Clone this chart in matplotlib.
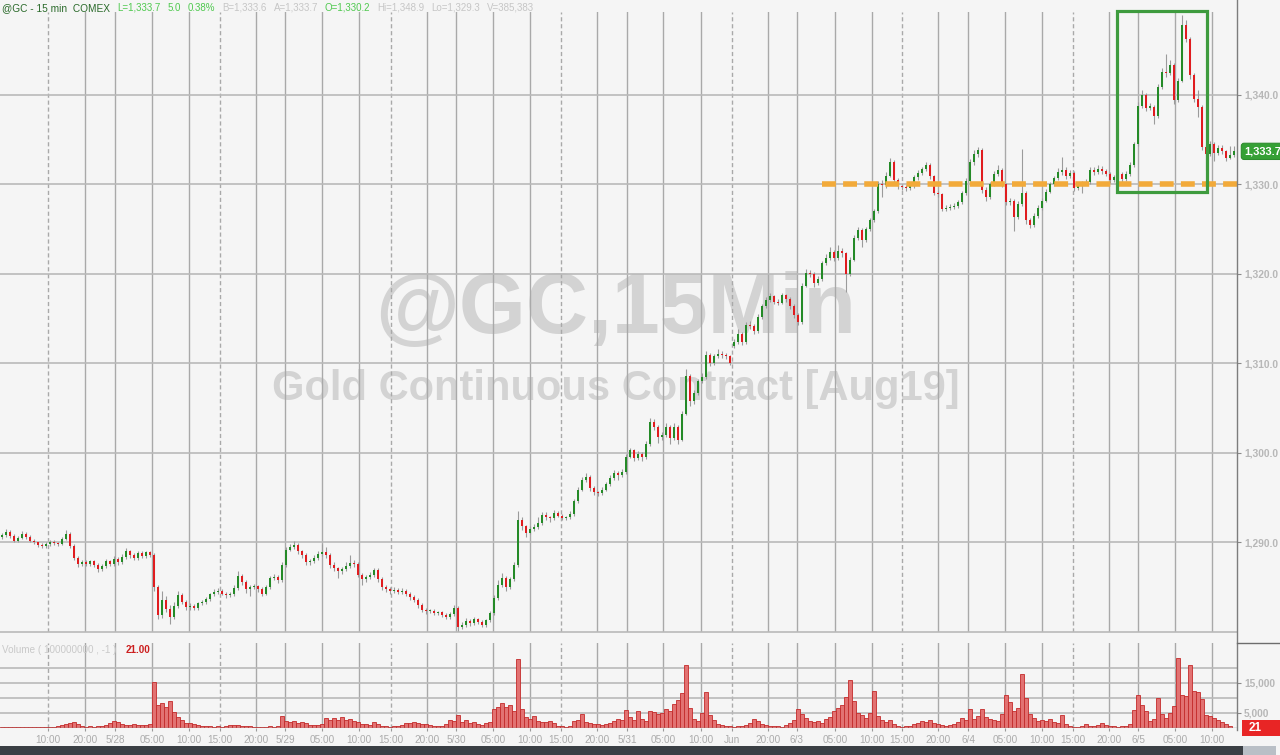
import matplotlib
matplotlib.use("Agg")
import matplotlib.pyplot as plt
import matplotlib.transforms as mtransforms
from matplotlib.patches import Rectangle
import numpy as np

plt.rcParams['font.family'] = ['Liberation Sans', 'DejaVu Sans']

# ---------------- DATA (~30-min candles) ----------------
first_open = 1290.6
gap_opens = {183: 1311.9}          # first candle after the weekend

closes = [
1290.8, 1291.2, 1290.7, 1290.2, 1290.5, 1291.0, 1290.6, 1290.2, 1290.0, 1289.7,
1289.6, 1289.8, 1290.1, 1289.9, 1289.8, 1290.4, 1291.0, 1289.6, 1288.3, 1287.6,
1287.8, 1287.6, 1287.9, 1287.5, 1287.0, 1287.4, 1287.9, 1287.6, 1288.2, 1287.8,
1288.4, 1289.0, 1288.6, 1288.3, 1288.8, 1288.5, 1288.9, 1288.6, 1285.0, 1281.9,
1283.6, 1282.6, 1281.7, 1282.9, 1284.1, 1283.4, 1282.8, 1282.9, 1282.7, 1283.2,
1283.3, 1283.7, 1284.2, 1284.5, 1284.6, 1284.3, 1284.1, 1284.2, 1284.9, 1286.3,
1285.6, 1284.8, 1285.0, 1285.1, 1284.8, 1284.3, 1285.0, 1286.0, 1286.2, 1285.8,
1287.5, 1289.2, 1289.5, 1289.7, 1289.0, 1288.6, 1287.8, 1287.9, 1288.3, 1288.7,
1288.9, 1288.6, 1287.5, 1287.1, 1286.8, 1287.0, 1287.4, 1287.7, 1287.6, 1286.4,
1285.9, 1286.1, 1286.4, 1286.9, 1285.9, 1285.0, 1284.8, 1284.6, 1284.7, 1284.5,
1284.6, 1284.3, 1283.9, 1283.6, 1283.0, 1282.5, 1282.3, 1282.4, 1282.1, 1282.2,
1281.9, 1281.7, 1282.0, 1282.7, 1280.6, 1280.8, 1281.2, 1281.0, 1281.4, 1281.1,
1280.8, 1281.3, 1282.1, 1283.8, 1285.3, 1286.0, 1285.0, 1285.9, 1287.5, 1292.5,
1291.8, 1291.1, 1291.5, 1291.7, 1292.2, 1293.1, 1292.8, 1292.7, 1293.3, 1293.0,
1292.7, 1292.8, 1293.2, 1294.6, 1295.9, 1297.0, 1297.3, 1296.1, 1295.6, 1295.5,
1295.9, 1296.5, 1297.2, 1297.8, 1297.5, 1297.9, 1299.6, 1300.3, 1299.4, 1299.9,
1299.5, 1301.0, 1303.5, 1302.9, 1301.8, 1302.0, 1302.9, 1301.7, 1302.9, 1301.5,
1304.4, 1308.6, 1305.8, 1306.7, 1308.0, 1308.5, 1311.0, 1310.0, 1310.8, 1311.1,
1310.9, 1310.8, 1310.1, 1312.4, 1313.3, 1312.4, 1314.3, 1314.2, 1313.6, 1315.2,
1316.4, 1317.1, 1317.5, 1316.9, 1316.8, 1317.6, 1317.2, 1316.4, 1315.4, 1314.6,
1318.7, 1320.1, 1320.0, 1319.0, 1319.4, 1321.2, 1321.8, 1322.5, 1321.8, 1322.6,
1322.3, 1320.0, 1321.6, 1324.0, 1324.9, 1323.8, 1325.0, 1326.0, 1327.0, 1330.1,
1329.9, 1331.0, 1332.5, 1330.5, 1329.8, 1329.7, 1329.6, 1329.8, 1330.8, 1331.3,
1331.7, 1332.2, 1330.9, 1329.1, 1328.9, 1327.3, 1327.4, 1327.5, 1327.6, 1328.0,
1329.0, 1330.4, 1332.5, 1333.4, 1333.9, 1329.4, 1328.6, 1330.0, 1331.2, 1331.6,
1330.0, 1328.0, 1328.2, 1326.4, 1327.8, 1329.0, 1326.0, 1325.5, 1326.5, 1327.4,
1328.2, 1329.2, 1330.0, 1330.7, 1331.4, 1331.6, 1330.9, 1331.3, 1329.6, 1329.8,
1330.1, 1330.3, 1331.6, 1331.4, 1331.7, 1331.5, 1331.2, 1330.5, 1330.8, 1331.2,
1330.6, 1331.2, 1332.2, 1334.5, 1338.8, 1340.0, 1338.6, 1338.7, 1337.6, 1340.9,
1342.6, 1342.4, 1343.4, 1339.4, 1341.6, 1347.8, 1346.3, 1342.2, 1339.5, 1338.7,
1334.2, 1333.4, 1334.5, 1333.5, 1334.1, 1333.7, 1333.0, 1333.3, 1333.7,
]

highs = [
1291.1, 1291.5, 1291.4, 1290.9, 1290.7, 1291.3, 1291.2, 1290.8, 1290.4, 1290.1,
1289.9, 1290.0, 1290.3, 1290.3, 1290.1, 1290.6, 1291.4, 1291.2, 1289.8, 1288.5,
1288.1, 1288.0, 1288.1, 1288.1, 1287.7, 1287.6, 1288.2, 1288.1, 1288.5, 1288.4,
1288.7, 1289.4, 1289.2, 1288.8, 1289.0, 1289.0, 1289.1, 1289.1, 1288.8, 1285.2,
1284.6, 1284.0, 1283.0, 1283.3, 1284.6, 1284.4, 1283.6, 1283.2, 1283.1, 1283.4,
1283.6, 1283.9, 1284.4, 1284.8, 1284.9, 1284.8, 1284.5, 1284.5, 1285.2, 1286.8,
1286.5, 1285.8, 1285.3, 1285.4, 1285.3, 1285.0, 1285.2, 1286.3, 1286.5, 1286.4,
1287.8, 1289.5, 1289.8, 1290.2, 1289.9, 1289.2, 1288.8, 1288.2, 1288.6, 1289.0,
1289.8, 1289.5, 1288.8, 1287.8, 1287.3, 1287.3, 1287.8, 1288.6, 1288.0, 1287.8,
1286.6, 1286.4, 1286.7, 1287.2, 1287.1, 1286.1, 1285.2, 1285.0, 1285.0, 1284.9,
1284.9, 1284.8, 1284.5, 1284.1, 1283.8, 1283.2, 1282.7, 1282.6, 1282.6, 1282.4,
1282.4, 1282.1, 1282.2, 1283.0, 1282.9, 1281.1, 1281.6, 1281.4, 1281.7, 1281.6,
1281.3, 1281.5, 1282.4, 1284.1, 1285.8, 1286.6, 1286.3, 1286.2, 1287.8, 1293.5,
1292.8, 1292.0, 1291.8, 1292.1, 1292.9, 1293.4, 1293.4, 1293.0, 1293.6, 1293.5,
1293.2, 1293.0, 1293.5, 1294.9, 1296.2, 1297.3, 1297.8, 1297.5, 1296.3, 1295.8,
1296.2, 1296.8, 1297.5, 1298.1, 1298.0, 1298.2, 1299.9, 1300.6, 1300.5, 1300.2,
1300.1, 1301.3, 1303.9, 1303.8, 1303.1, 1302.4, 1303.4, 1303.1, 1303.3, 1303.1,
1304.7, 1309.4, 1308.8, 1307.0, 1308.3, 1308.9, 1311.4, 1311.2, 1311.1, 1311.6,
1311.4, 1311.2, 1311.0, 1312.7, 1313.8, 1313.5, 1314.6, 1314.7, 1314.4, 1315.5,
1316.7, 1317.4, 1317.9, 1317.7, 1317.2, 1317.9, 1317.8, 1317.4, 1316.6, 1315.6,
1319.0, 1320.6, 1320.4, 1320.2, 1319.8, 1321.5, 1322.2, 1323.0, 1322.7, 1323.2,
1322.9, 1322.5, 1321.9, 1324.3, 1325.3, 1325.1, 1325.3, 1326.3, 1327.3, 1330.4,
1330.5, 1331.4, 1333.0, 1332.7, 1330.7, 1330.0, 1329.9, 1330.1, 1331.1, 1331.6,
1332.0, 1332.5, 1332.4, 1331.1, 1329.3, 1329.1, 1327.7, 1327.8, 1327.9, 1328.3,
1329.3, 1330.7, 1332.8, 1333.8, 1334.2, 1334.1, 1329.7, 1330.3, 1331.5, 1332.2,
1331.8, 1330.2, 1328.5, 1328.4, 1328.1, 1334.0, 1329.3, 1326.3, 1326.8, 1327.7,
1328.5, 1329.5, 1330.3, 1331.0, 1331.8, 1333.1, 1331.9, 1331.6, 1331.5, 1330.1,
1330.4, 1330.6, 1331.9, 1332.0, 1332.2, 1332.1, 1331.7, 1331.4, 1331.1, 1331.5,
1331.4, 1331.5, 1332.5, 1334.8, 1339.2, 1340.5, 1340.2, 1339.1, 1338.9, 1341.2,
1343.0, 1344.6, 1343.9, 1343.6, 1341.9, 1348.9, 1348.4, 1346.5, 1342.4, 1340.6,
1338.9, 1334.4, 1334.9, 1334.7, 1334.4, 1334.4, 1333.9, 1334.3, 1334.3,
]

lows = [
1290.4, 1290.6, 1290.5, 1290.0, 1290.0, 1290.4, 1290.4, 1290.0, 1289.8, 1289.5,
1289.4, 1289.4, 1289.6, 1289.7, 1289.6, 1289.7, 1290.3, 1289.4, 1288.0, 1287.3,
1287.4, 1287.4, 1287.4, 1287.3, 1286.7, 1286.8, 1287.2, 1287.4, 1287.4, 1287.5,
1287.6, 1288.2, 1288.3, 1288.0, 1288.1, 1288.3, 1288.3, 1288.4, 1284.6, 1281.4,
1281.6, 1282.2, 1280.9, 1281.5, 1282.7, 1283.1, 1282.5, 1282.5, 1282.5, 1282.5,
1283.0, 1283.1, 1283.5, 1284.0, 1284.3, 1284.1, 1283.8, 1283.9, 1284.0, 1284.7,
1285.3, 1284.4, 1284.0, 1284.8, 1284.5, 1284.0, 1284.1, 1284.8, 1285.8, 1285.5,
1285.6, 1287.3, 1289.0, 1289.3, 1288.7, 1288.3, 1287.5, 1287.5, 1287.7, 1288.1,
1288.5, 1288.3, 1287.1, 1286.8, 1286.0, 1286.5, 1286.8, 1287.2, 1287.3, 1286.1,
1285.2, 1285.6, 1285.9, 1286.2, 1285.6, 1284.7, 1284.5, 1284.3, 1284.4, 1284.2,
1284.3, 1284.0, 1283.6, 1283.3, 1282.7, 1282.2, 1282.0, 1282.1, 1281.9, 1281.9,
1281.7, 1281.4, 1281.5, 1281.8, 1280.1, 1280.3, 1280.6, 1280.7, 1280.8, 1280.9,
1280.6, 1280.6, 1281.1, 1281.9, 1283.6, 1285.0, 1284.6, 1284.8, 1285.7, 1287.3,
1291.4, 1290.6, 1290.9, 1291.3, 1291.5, 1292.0, 1292.5, 1292.3, 1292.5, 1292.8,
1292.5, 1292.5, 1292.6, 1293.0, 1294.4, 1295.7, 1296.8, 1295.8, 1295.3, 1295.2,
1295.3, 1295.7, 1296.3, 1297.0, 1297.0, 1297.3, 1297.7, 1299.4, 1299.1, 1299.2,
1299.1, 1299.3, 1300.8, 1302.6, 1301.1, 1301.5, 1301.8, 1301.0, 1301.5, 1301.0,
1301.3, 1304.2, 1305.3, 1305.5, 1306.5, 1307.8, 1308.3, 1309.7, 1309.8, 1310.6,
1310.6, 1310.5, 1309.8, 1311.7, 1312.2, 1312.1, 1312.2, 1313.9, 1313.3, 1313.4,
1315.0, 1316.2, 1316.9, 1316.6, 1316.5, 1316.6, 1316.9, 1316.1, 1315.1, 1314.3,
1314.4, 1318.5, 1319.7, 1318.6, 1318.8, 1319.2, 1321.0, 1321.6, 1321.5, 1321.6,
1321.9, 1318.0, 1319.8, 1321.4, 1323.8, 1323.0, 1323.6, 1324.8, 1325.8, 1326.8,
1328.6, 1329.6, 1330.8, 1330.2, 1329.5, 1329.4, 1329.3, 1329.4, 1329.6, 1330.5,
1331.1, 1331.5, 1330.6, 1328.8, 1328.6, 1327.0, 1327.0, 1327.1, 1327.3, 1327.4,
1327.8, 1328.8, 1330.2, 1332.2, 1333.1, 1329.1, 1328.2, 1328.4, 1329.8, 1331.0,
1329.7, 1327.7, 1327.7, 1324.8, 1326.1, 1327.6, 1325.6, 1325.1, 1325.2, 1326.3,
1327.2, 1328.0, 1329.0, 1329.8, 1330.5, 1331.1, 1330.6, 1330.7, 1329.3, 1329.4,
1329.1, 1329.9, 1330.1, 1331.1, 1331.2, 1331.2, 1330.9, 1330.2, 1330.3, 1330.6,
1330.3, 1330.4, 1331.0, 1332.0, 1334.3, 1338.6, 1338.2, 1338.3, 1336.8, 1337.4,
1340.7, 1342.0, 1342.2, 1339.0, 1339.2, 1341.4, 1345.9, 1341.8, 1339.2, 1337.5,
1333.8, 1331.6, 1333.2, 1332.6, 1333.3, 1333.4, 1332.6, 1332.8, 1333.1,
]

volume_k = [   # thousands of contracts
0.3, 0.3, 0.2, 0.3, 0.2, 0.3, 0.3, 0.2, 0.3, 0.3,
0.2, 0.3, 0.4, 0.3, 0.5, 0.9, 1.2, 1.6, 1.9, 1.3,
0.6, 0.4, 0.5, 0.4, 0.6, 0.5, 0.9, 1.6, 2.3, 2.0,
1.4, 1.1, 1.0, 1.2, 0.9, 1.1, 1.0, 1.3, 15.3, 7.5,
8.3, 7.0, 8.9, 5.2, 3.8, 2.6, 1.8, 1.6, 1.2, 0.9,
0.6, 0.8, 0.5, 0.4, 0.6, 0.3, 0.7, 1.0, 1.1, 0.9,
0.8, 0.6, 0.5, 0.4, 0.3, 0.4, 0.3, 0.5, 0.4, 0.6,
3.9, 2.3, 2.0, 2.4, 1.8, 2.1, 1.5, 1.1, 0.9, 1.0,
1.3, 3.2, 2.8, 3.4, 2.6, 3.5, 2.7, 2.9, 2.2, 1.9,
1.4, 1.2, 1.0, 2.1, 1.3, 0.6, 0.5, 0.4, 0.6, 0.5,
0.9, 1.8, 1.6, 2.0, 1.5, 1.3, 1.2, 0.9, 0.6, 0.5,
0.6, 1.2, 2.6, 2.2, 4.4, 2.0, 2.5, 1.6, 1.9, 1.3,
1.1, 1.5, 2.0, 6.2, 7.0, 8.3, 6.9, 7.5, 5.8, 23.0,
6.2, 3.5, 3.1, 4.0, 2.4, 2.1, 1.9, 2.3, 1.6, 0.7,
0.5, 0.4, 0.6, 2.2, 2.6, 4.7, 2.1, 1.8, 1.4, 1.2,
1.0, 1.3, 1.6, 2.4, 2.9, 2.6, 5.9, 3.8, 2.7, 5.5,
3.1, 2.4, 5.8, 5.2, 4.6, 5.0, 6.3, 5.8, 8.0, 9.4,
11.7, 20.9, 6.5, 3.1, 2.2, 5.0, 12.0, 4.4, 2.6, 1.4,
1.0, 0.8, 0.6, 0.4, 0.6, 0.5, 0.9, 1.6, 3.1, 2.4,
1.2, 0.9, 0.7, 0.6, 0.5, 0.4, 0.9, 1.7, 2.6, 6.4,
4.8, 3.2, 2.4, 2.0, 2.3, 1.8, 2.9, 3.6, 5.5, 6.7,
7.8, 10.2, 15.9, 8.9, 5.0, 4.4, 3.2, 5.1, 12.2, 4.0,
2.6, 2.1, 2.8, 1.3, 0.6, 0.4, 0.5, 0.7, 1.2, 1.5,
2.3, 1.9, 2.5, 1.6, 1.3, 0.9, 0.8, 1.0, 1.2, 1.9,
3.3, 2.6, 6.3, 3.1, 3.9, 6.3, 3.5, 2.9, 2.5, 2.3,
4.5, 11.0, 8.6, 5.5, 6.8, 18.0, 10.0, 4.6, 3.3, 2.4,
2.8, 2.2, 3.0, 2.1, 1.6, 4.4, 1.2, 0.6, 0.4, 0.4,
0.5, 1.4, 0.7, 0.5, 1.1, 1.6, 1.0, 0.7, 0.5, 0.4,
0.5, 0.6, 1.3, 6.0, 11.0, 7.5, 5.6, 2.4, 3.1, 10.0,
4.5, 3.2, 5.0, 7.2, 23.3, 11.0, 10.5, 21.0, 12.2, 12.0,
9.5, 4.2, 4.0, 3.3, 2.6, 1.9, 1.2, 0.8, 0.021,
]

tick_labels = ["10:00", "20:00", "5/28", "05:00", "10:00", "15:00", "20:00", "5/29",
               "05:00", "10:00", "15:00", "20:00", "5/30", "05:00", "10:00", "15:00",
               "20:00", "5/31", "05:00", "10:00", "Jun", "20:00", "6/3", "05:00",
               "10:00", "15:00", "20:00", "6/4", "05:00", "10:00", "15:00", "20:00",
               "6/5", "05:00", "10:00"]
tick_pos = [11.5, 20.75, 28.25, 37.5, 46.75, 54.5, 63.5, 70.75, 80, 89.25, 97.25,
            106.25, 113.5, 122.75, 132, 139.75, 148.75, 156.25, 165.25, 174.75,
            182.5, 191.5, 198.75, 208.25, 217.5, 225, 234, 241.5, 250.75, 260,
            267.75, 276.75, 284, 293.25, 302.5]
session_break_ticks = [0, 5, 10, 15, 20, 25, 30]

price_ticks = [1290, 1300, 1310, 1320, 1330, 1340]
price_grid_extra = [1280]
vol_grid = [5000, 10000, 15000, 20000]
vol_label_ticks = [5000, 15000]

support_level = 1330.0
support_from_bar = 205
box_bars = (278.75, 301.25)
box_prices = (1329.2, 1349.4)

last_price = 1333.7
last_volume_label = "21"

header_title = "@GC - 15 min  COMEX"
header_parts = [
    ("L=1,333.7", 'green'), ("5.0", 'green'), ("0.38%", 'green'),
    ("B=1,333.6", 'grey'), ("A=1,333.7", 'grey'),
    ("O=1,330.2", 'green'), ("Hi=1,348.9", 'grey'),
    ("Lo=1,329.3", 'grey'), ("V=385,383", 'grey'),
]
watermark1 = "@GC,15Min"
watermark2 = "Gold Continuous Contract [Aug19]"
volume_title = "Volume ( 100000000 , -1 )"
volume_value = "21.00"

# ---------------- STYLE / LAYOUT ----------------
W, H = 1280, 755
BG = '#f5f5f5'
UP = '#248a27'
DOWN = '#e01c1f'
WICK = '#9b9b9b'
GRIDV = '#a9a9a9'
GRIDH = '#b9b9b9'
AXIS_LBL = '#b7b7b7'
header_colors = {'dark': '#2a6a2a', 'green': '#4fc94f', 'grey': '#c6c6c6'}

fig = plt.figure(figsize=(W / 100, H / 100), dpi=100)
fig.patch.set_facecolor(BG)


def fbox(x0, y0, x1, y1):
    return [x0 / W, 1 - y1 / H, (x1 - x0) / W, (y1 - y0) / H]


ax = fig.add_axes(fbox(0, 12, 1237, 632))
axv = fig.add_axes(fbox(0, 643, 1237, 728))
for a in (ax, axv):
    a.set_facecolor(BG)
    for s in a.spines.values():
        s.set_visible(False)

n = len(closes)
x = np.arange(n)
opens = [first_open] + closes[:-1]
for k, v in gap_opens.items():
    opens[k] = v
o = np.array(opens)
c = np.array(closes)
hi = np.array(highs)
lo = np.array(lows)

xmin, xmax = -0.5, 308.75
ax.set_xlim(xmin, xmax)
axv.set_xlim(xmin, xmax)
ax.set_ylim(1280, 1349.27)
axv.set_ylim(0, 28300)

# grid lines
for k, pos in enumerate(tick_pos):
    ls = (0, (3, 2)) if k in session_break_ticks else '-'
    for a in (ax, axv):
        a.axvline(pos, color=GRIDV, lw=1.0, ls=ls, zorder=1)
for p in price_ticks + price_grid_extra:
    ax.axhline(p, color=GRIDH, lw=1.2, zorder=1, clip_on=False)
for v in vol_grid:
    axv.axhline(v, color=GRIDH, lw=1.2, zorder=1)
axv.axhline(0, color='#8a8a8a', lw=1.0, zorder=4)

# watermark
ax.text(0.498, 0.4823, watermark1, transform=ax.transAxes, ha='center', va='baseline',
        fontsize=62, fontweight='bold', color='#d3d3d3', zorder=0.5)
ax.text(0.498, 0.3742, watermark2, transform=ax.transAxes, ha='center', va='baseline',
        fontsize=30, fontweight='bold', color='#d3d3d3', zorder=0.5)

# candles
colors = np.where(c >= o, UP, DOWN)
ax.vlines(x, lo, hi, color=WICK, lw=0.8, zorder=2)
body_low = np.minimum(o, c)
body_h = np.maximum(np.abs(c - o), 0.12)
ax.bar(x, body_h, bottom=body_low, width=0.74, color=colors, linewidth=0, zorder=3)

# volume
axv.bar(x, np.array(volume_k) * 1000, width=0.78, color='#e27272',
        edgecolor='#c42a2a', linewidth=0.6, zorder=3)

# support line + highlight box
ax.hlines(support_level, support_from_bar, xmax, colors='#f2aa3a', linewidth=4.0,
          linestyles=(0, (2.5, 1.3)), zorder=6, clip_on=False)
ax.add_patch(Rectangle((box_bars[0], box_prices[0]), box_bars[1] - box_bars[0],
                       box_prices[1] - box_prices[0], fill=False, ec='#3e9b3e',
                       lw=2.3, zorder=7, clip_on=False))

# axes ticks
ax.tick_params(axis='x', bottom=False, labelbottom=False)
ax.yaxis.tick_right()
ax.set_yticks(price_ticks)
ax.set_yticklabels([f"{v:,.1f}" for v in price_ticks])
ax.tick_params(axis='y', labelsize=7.4, labelcolor=AXIS_LBL, length=3, width=0.8,
               color='#8a8a8a', pad=2)
for t in ax.get_yticklabels():
    t.set_fontweight('bold')

axv.yaxis.tick_right()
axv.set_yticks(vol_label_ticks)
axv.set_yticklabels([f"{v:,}" for v in vol_label_ticks])
axv.tick_params(axis='y', labelsize=7.4, labelcolor=AXIS_LBL, length=3, width=0.8,
                color='#8a8a8a', pad=2)
for t in axv.get_yticklabels():
    t.set_fontweight('bold')
axv.set_xticks(tick_pos)
axv.set_xticklabels(tick_labels)
axv.tick_params(axis='x', labelsize=7.2, labelcolor='#ababab', length=2.5, width=0.8,
                color='#9a9a9a', pad=2.5)

# last price tag
trans_p = mtransforms.blended_transform_factory(ax.transAxes, ax.transData)
ax.text(1.006, last_price, f"{last_price:,.1f}", transform=trans_p, ha='left', va='center',
        fontsize=8, fontweight='bold', color='white', zorder=10, clip_on=False,
        bbox=dict(boxstyle='round,pad=0.28,rounding_size=0.25', fc='#35a035', ec='#2d8d2d', lw=0.8))

# last volume tag
trans_v = mtransforms.blended_transform_factory(axv.transAxes, axv.transData)
axv.add_patch(Rectangle((1.004, -2800), 0.036, 5600, transform=trans_v, fc='#e82525',
                        ec='none', clip_on=False, zorder=10))
axv.text(1.009, 0, last_volume_label, transform=trans_v, ha='left', va='center',
         fontsize=8.5, fontweight='bold', color='white', zorder=11, clip_on=False)

# right axis line and separator
fig.add_artist(plt.Line2D([1237 / W, 1237 / W], [1 - 730 / H, 1], color='#7d7d7d', lw=1.0))
fig.add_artist(plt.Line2D([1237 / W, 1], [1 - 643 / H, 1 - 643 / H], color='#6d6d6d', lw=1.0))

# header (flowing left to right)
renderer = fig.canvas.get_renderer()
t0 = fig.text(2 / W, 1 - 8 / H, header_title, ha='left', va='center', fontsize=7.3,
              color=header_colors['dark'])
cur = t0.get_window_extent(renderer).x1 + 7
for txt, col in header_parts:
    t = fig.text(cur / W, 1 - 8 / H, txt, ha='left', va='center', fontsize=7.0,
                 color=header_colors[col])
    cur = t.get_window_extent(renderer).x1 + 7

# volume title
fig.text(2 / W, 1 - 650 / H, volume_title, ha='left', va='center', fontsize=7.1, color='#c9c9c9')
fig.text(126 / W, 1 - 650 / H, volume_value, ha='left', va='center', fontsize=7.1,
         fontweight='bold', color='#cc1f1f')

# bottom dark bar
fig.add_artist(Rectangle((0, 0), 1243 / W, 9 / H, transform=fig.transFigure,
                         fc='#3a3f44', ec='none'))
fig.add_artist(Rectangle((1243 / W, 0), 33 / W, 9 / H, transform=fig.transFigure,
                         fc='#b9bfc6', ec='none'))

fig.savefig("out.png", dpi=100, facecolor=BG)
